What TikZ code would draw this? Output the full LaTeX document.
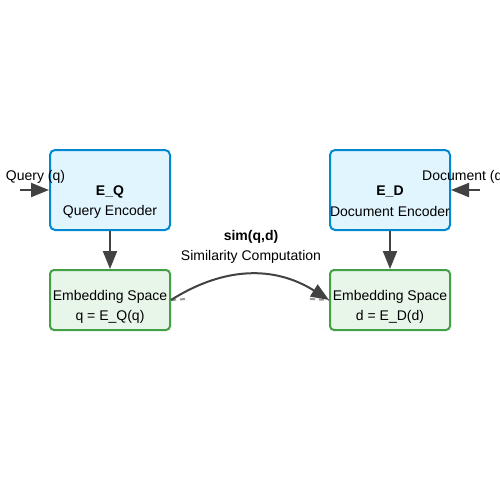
\documentclass[tikz,border=0pt]{standalone}
\usepackage{fontspec}
\setmainfont{Liberation Sans}
\usetikzlibrary{arrows.meta}
\definecolor{encfill}{HTML}{E1F5FE}
\definecolor{encdraw}{HTML}{0288D1}
\definecolor{embfill}{HTML}{E8F5E9}
\definecolor{embdraw}{HTML}{43A047}
\definecolor{arr}{HTML}{424242}
\tikzset{
  encbox/.style={draw=encdraw, fill=encfill, line width=2pt, rounded corners=5pt, minimum width=120pt, minimum height=80pt, inner sep=0pt},
  embbox/.style={draw=embdraw, fill=embfill, line width=2pt, rounded corners=4pt, minimum width=120pt, minimum height=60pt, inner sep=0pt},
  txt/.style={font=\fontsize{14pt}{16pt}\selectfont, inner sep=0pt, text=black},
  conn/.style={draw=arr, line width=2pt, -{Triangle[length=18pt,width=14pt]}},
  faint/.style={draw=gray!80, line width=2pt, dash pattern=on 5pt off 4pt}
}
\begin{document}
\begin{tikzpicture}[x=1pt,y=-1pt]
\useasboundingbox (0,0) rectangle (500,500);
\node[encbox] (qe) at (110,190) {};
\node[encbox] (de) at (390,190) {};
\node[embbox] (qm) at (110,300) {};
\node[embbox] (dm) at (390,300) {};
\node[txt, font=\fontsize{14pt}{16pt}\selectfont\bfseries] (qel) at (110,191.5) {E\_Q};
\node[txt] (qes) at (110,211.5) {Query Encoder};
\node[txt, font=\fontsize{14pt}{16pt}\selectfont\bfseries] (del) at (390,191.5) {E\_D};
\node[txt] (des) at (390,211.5) {Document Encoder};
\node[txt] (qml) at (110,296.5) {Embedding Space};
\node[txt] (qms) at (110,316.5) {q = E\_Q(q)};
\node[txt] (dml) at (390,296.5) {Embedding Space};
\node[txt] (dms) at (390,316.5) {d = E\_D(d)};
\node[txt] (qin) at (35.5,176.5) {Query (q)};
\node[txt, anchor=west] (din) at (422,176.5) {Document (d)};
\node[txt, font=\fontsize{14pt}{16pt}\selectfont\bfseries] (sim) at (251,236.5) {sim(q,d)};
\node[txt] (simc) at (251,256.5) {Similarity Computation};
\coordinate (qs) at (20,190);
\coordinate (ds) at (480,190);
\coordinate (fa) at (186,299);
\coordinate (fb) at (310,299);
\draw[conn] (qs) -- (qe.west);
\draw[conn] (ds) -- (de.east);
\draw[conn] (qe.south) -- (qm.north);
\draw[conn] (de.south) -- (dm.north);
\draw[faint] (qm.east) -- (fa);
\draw[faint] (fb) -- (dm.west);
\draw[conn] (qm.east) .. controls (225,266) and (275,266) .. (dm.west);
\end{tikzpicture}
\end{document}
